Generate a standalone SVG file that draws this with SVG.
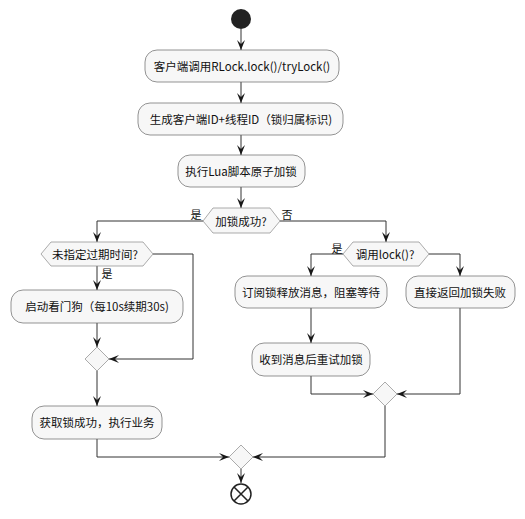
<svg xmlns="http://www.w3.org/2000/svg" width="525" height="519" viewBox="0 0 525 519">
<defs>
<marker id="ah" viewBox="0 0 10 10" refX="10" refY="5" markerWidth="10" markerHeight="10" markerUnits="userSpaceOnUse" orient="auto">
<path d="M0,1 L10,5 L0,9 L4,5 Z" fill="#181818"/>
</marker>
<style>
.box{fill:#F7F7F7;stroke:#666666;stroke-width:0.7}
.dia{fill:#F7F7F7;stroke:#888888;stroke-width:0.7}
.t{font-family:"Noto Sans CJK SC","Noto Sans",sans-serif;font-size:11.5px;fill:#111;text-anchor:middle;dominant-baseline:central}
.l{font-family:"Noto Sans CJK SC","Noto Sans",sans-serif;font-size:11px;fill:#111;text-anchor:middle;dominant-baseline:central}
.c{fill:none;stroke:#333333;stroke-width:1}
.a{marker-end:url(#ah)}
</style>
</defs>
<rect width="525" height="519" fill="#FFFFFF"/>
<g id="connectors">
<path class="c a" d="M241,29 V50"/>
<path class="c a" d="M241,82 V103"/>
<path class="c a" d="M241,135 V155"/>
<path class="c a" d="M241,187 V208"/>
<path class="c a" d="M203,221 H97 V242"/>
<path class="c a" d="M97,266 V290"/>
<path class="c a" d="M153,254 H193 V359 H109"/>
<path class="c a" d="M97,323 V347"/>
<path class="c a" d="M97,371 V406"/>
<path class="c a" d="M97,439 V457 H229"/>
<path class="c a" d="M280,221 H386 V242"/>
<path class="c a" d="M343,254 H311 V276"/>
<path class="c a" d="M429,254 H460 V276"/>
<path class="c a" d="M311,308 V343"/>
<path class="c a" d="M311,376 V394 H373"/>
<path class="c a" d="M460,308 V394 H397"/>
<path class="c a" d="M385,406 V457 H253"/>
<path class="c a" d="M241,469 V483"/>
<text class="l" x="196" y="214">是</text>
<text class="l" x="287" y="214">否</text>
<text class="l" x="107" y="273">是</text>
<text class="l" x="337" y="248">是</text>
</g>
<g id="start"><circle cx="241" cy="19" r="10" fill="#222222"/></g>
<g id="n1"><rect class="box" x="145" y="50" width="194" height="32" rx="12"/><text class="t" x="242" y="66">客户端调用RLock.lock()/tryLock()</text></g>
<g id="n2"><rect class="box" x="138" y="103" width="205" height="32" rx="12"/><text class="t" x="241" y="119">生成客户端ID+线程ID（锁归属标识)</text></g>
<g id="n3"><rect class="box" x="178" y="155" width="127" height="32" rx="12"/><text class="t" x="241" y="171">执行Lua脚本原子加锁</text></g>
<g id="d1"><polygon class="dia" points="203,221 213,208 270,208 280,221 270,233 213,233"/><text class="t" x="241" y="221">加锁成功?</text></g>
<g id="d2"><polygon class="dia" points="41,254 51,242 143,242 153,254 143,266 51,266"/><text class="t" x="95" y="254">未指定过期时间?</text></g>
<g id="n4"><rect class="box" x="11" y="290" width="172" height="33" rx="12"/><text class="t" x="97" y="306">启动看门狗（每10s续期30s)</text></g>
<g id="m1"><polygon class="dia" points="97,347 109,359 97,371 85,359"/></g>
<g id="n5"><rect class="box" x="32" y="406" width="130" height="33" rx="12"/><text class="t" x="97" y="422">获取锁成功，执行业务</text></g>
<g id="d3"><polygon class="dia" points="343,254 353,242 419,242 429,254 419,266 353,266"/><text class="t" x="385" y="254">调用lock()?</text></g>
<g id="n6"><rect class="box" x="235" y="276" width="152" height="32" rx="12"/><text class="t" x="311" y="292">订阅锁释放消息，阻塞等待</text></g>
<g id="n7"><rect class="box" x="406" y="276" width="109" height="32" rx="12"/><text class="t" x="460" y="292">直接返回加锁失败</text></g>
<g id="n8"><rect class="box" x="252" y="343" width="118" height="33" rx="12"/><text class="t" x="311" y="359">收到消息后重试加锁</text></g>
<g id="m2"><polygon class="dia" points="385,382 397,394 385,406 373,394"/></g>
<g id="m3"><polygon class="dia" points="241,445 253,457 241,469 229,457"/></g>
<g id="end"><circle cx="241" cy="494" r="10" fill="#FFFFFF" stroke="#222222" stroke-width="1.5"/><path d="M234,487 L248,501 M248,487 L234,501" stroke="#222222" stroke-width="1.5"/></g>
</svg>
